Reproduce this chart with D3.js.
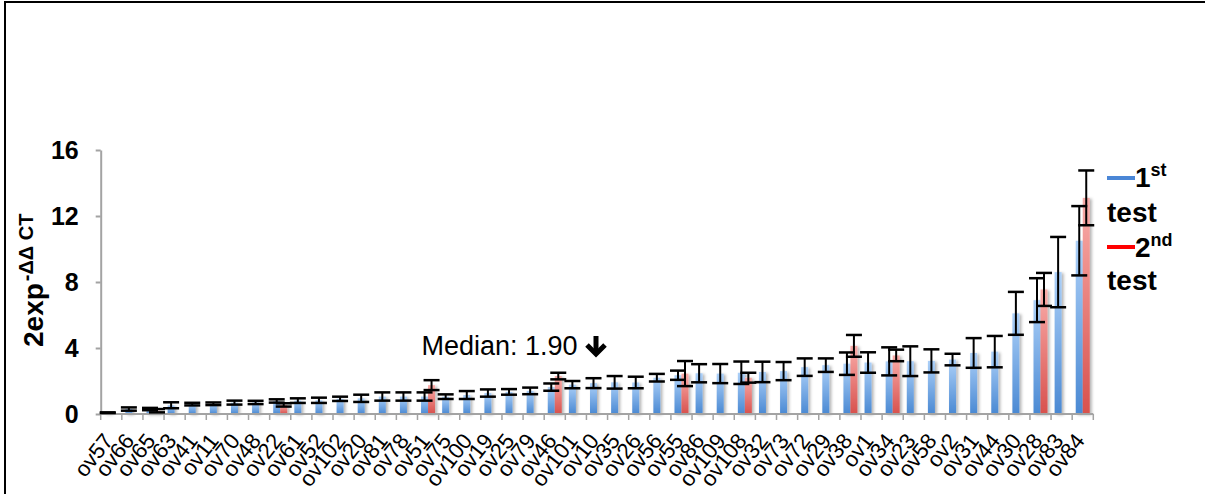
<!DOCTYPE html>
<html><head><meta charset="utf-8">
<script src="https://cdn.jsdelivr.net/npm/d3@7"></script>
<style>
body{margin:0;background:#fff;}
svg{display:block;font-family:"Liberation Sans",Arial,sans-serif;}
</style></head>
<body><svg id="c" width="1205" height="494"></svg>
<script>
const categories = ["ov57","ov66","ov65","ov63","ov41","ov11","ov70","ov48","ov22","ov61","ov52","ov102","ov20","ov81","ov78","ov51","ov75","ov100","ov19","ov25","ov79","ov46","ov101","ov10","ov35","ov26","ov56","ov55","ov86","ov109","ov108","ov32","ov73","ov72","ov29","ov38","ov1","ov34","ov23","ov58","ov2","ov31","ov44","ov30","ov28","ov83","ov84"];
const test1 = [0.08,0.3,0.3,0.53,0.6,0.62,0.69,0.7,0.79,0.81,0.83,0.92,0.95,1.06,1.06,1.06,1.05,1.15,1.27,1.34,1.4,1.63,1.78,1.87,1.92,1.91,2.2,2.35,2.47,2.45,2.5,2.55,2.6,2.84,2.96,3.05,3.12,3.19,3.2,3.22,3.3,3.7,3.78,6.1,6.9,8.6,10.5];
const err1 = [0.02,0.1,0.07,0.18,0.08,0.08,0.12,0.1,0.1,0.14,0.16,0.13,0.22,0.25,0.25,0.25,0.14,0.24,0.22,0.17,0.2,0.22,0.22,0.3,0.38,0.35,0.23,0.28,0.55,0.58,0.68,0.62,0.55,0.53,0.41,0.68,0.62,0.85,0.9,0.7,0.35,0.9,0.95,1.3,1.33,2.13,2.1];
const test2 = [null,null,0.2,null,null,null,null,null,0.55,null,null,null,null,null,null,1.75,null,null,null,null,null,2.3,null,null,null,null,null,2.45,null,null,2.2,null,null,null,null,4.13,null,3.55,null,null,null,null,null,null,7.55,null,13.1];
const err2 = [null,null,0.1,null,null,null,null,null,0.1,null,null,null,null,null,null,0.3,null,null,null,null,null,0.2,null,null,null,null,null,0.76,null,null,0.3,null,null,null,null,0.66,null,0.35,null,null,null,null,null,null,1.0,null,1.66];
const yTicks = [0,4,8,12,16];
const seriesNames = ["1st test","2nd test"];
const medianLabel = "Median: 1.90";

const svg = d3.select("#c");
const defs = svg.append("defs");
function grad(id, top, bottom){
  const g = defs.append("linearGradient").attr("id",id).attr("x1",0).attr("y1",0).attr("x2",0).attr("y2",1);
  g.append("stop").attr("offset","0%").attr("stop-color",top);
  g.append("stop").attr("offset","100%").attr("stop-color",bottom);
}
grad("gBlue","#acd0f8","#4a89d3");
grad("gRed","#f9aca9","#d8514d");
const f = defs.append("filter").attr("id","sh").attr("x","-50%").attr("y","-10%").attr("width","200%").attr("height","130%");
f.append("feDropShadow").attr("dx",2).attr("dy",1).attr("stdDeviation",1.6).attr("flood-color","#000").attr("flood-opacity",0.3);

// frame
svg.append("path").attr("d","M5,494 V2 H1205").attr("fill","none").attr("stroke","#000").attr("stroke-width",2);

const x = d3.scaleBand().domain(categories).range([100.7,1093.3]).padding(0);
const bw = x.bandwidth();
const xs = d3.scaleBand().domain(seriesNames).range([bw/2-7, bw/2+7]);
const y = d3.scaleLinear().domain([0,16]).range([414,150]);

const data = categories.map((c,i)=>({c, v1:test1[i], e1:err1[i], v2:test2[i], e2:err2[i]}));

// bars
const barsG = svg.append("g").attr("filter","url(#sh)");
barsG.selectAll("rect.b1").data(data).join("rect")
  .attr("x",d=>x(d.c)+xs(seriesNames[0])).attr("width",xs.bandwidth())
  .attr("y",d=>y(d.v1)).attr("height",d=>y(0)-y(d.v1)).attr("fill","url(#gBlue)");
barsG.selectAll("rect.b2").data(data.filter(d=>d.v2!=null)).join("rect")
  .attr("x",d=>x(d.c)+xs(seriesNames[1])).attr("width",xs.bandwidth())
  .attr("y",d=>y(d.v2)).attr("height",d=>y(0)-y(d.v2)).attr("fill","url(#gRed)");

// axes
const axisColor = "#a3a3a3";
const yAxis = svg.append("g").attr("transform","translate(100.7,0)")
  .call(d3.axisLeft(y).tickValues(yTicks).tickSize(5).tickSizeOuter(0).tickPadding(17));
yAxis.select(".domain").attr("stroke",axisColor).attr("stroke-width",2);
yAxis.selectAll(".tick line").attr("stroke",axisColor).attr("stroke-width",2);
yAxis.selectAll(".tick text").attr("font-size",25).attr("font-weight","bold").attr("fill","#000")
  .attr("font-family","'Liberation Sans',Arial,sans-serif");

const xAxisG = svg.append("g");
const edges = categories.map(c=>x(c)).concat([x.range()[1]]);
xAxisG.append("line").attr("x1",x.range()[0]).attr("x2",x.range()[1]).attr("y1",y(0)).attr("y2",y(0))
  .attr("stroke",axisColor).attr("stroke-width",2);
xAxisG.selectAll("line.t").data(edges).join("line")
  .attr("x1",d=>d).attr("x2",d=>d).attr("y1",y(0)).attr("y2",y(0)+6)
  .attr("stroke",axisColor).attr("stroke-width",1.5);
xAxisG.selectAll("text").data(categories).join("text")
  .attr("transform",d=>`translate(${x(d)+bw/2+3},441) rotate(-52)`)
  .attr("text-anchor","end").attr("font-size",22).attr("fill","#000").text(d=>d);

// error bars
function errBars(arr, key, ekey, sname){
  const g = svg.append("g");
  arr.forEach(d=>{
    const cx = x(d.c)+xs(sname)+xs.bandwidth()/2;
    const y1 = y(d[key]+d[ekey]), y2 = y(Math.max(0,d[key]-d[ekey]));
    g.append("line").attr("x1",cx).attr("x2",cx).attr("y1",y1).attr("y2",y2).attr("stroke","#000").attr("stroke-width",2);
    [y1,y2].forEach(yy=>g.append("line").attr("x1",cx-8).attr("x2",cx+8).attr("y1",yy).attr("y2",yy).attr("stroke","#000").attr("stroke-width",2.5));
  });
}
errBars(data, "v1","e1", seriesNames[0]);
errBars(data.filter(d=>d.v2!=null), "v2","e2", seriesNames[1]);

// y label
const yl = svg.append("text").attr("transform","translate(43,347) rotate(-90)")
  .attr("font-weight","bold").attr("font-size",28).attr("fill","#000");
yl.append("tspan").text("2exp");
yl.append("tspan").attr("dx",2).attr("dy",-10).attr("font-size",20).text("-\u0394\u0394 CT");

// median annotation
svg.append("text").attr("x",421.5).attr("y",355).attr("font-size",27).attr("fill","#000").text(medianLabel);
svg.append("line").attr("x1",596).attr("x2",596).attr("y1",336).attr("y2",352).attr("stroke","#000").attr("stroke-width",5);
svg.append("path").attr("d","M587,345 L596,354 L605,345").attr("fill","none").attr("stroke","#000").attr("stroke-width",5).attr("stroke-linejoin","miter");

// legend
const leg = svg.append("g");
const legItems = [{sup:"st", main:"1", color:"#4a86d6", ly:178, ty:187, ty2:222},
                  {sup:"nd", main:"2", color:"#ff0000", ly:247, ty:257, ty2:290}];
legItems.forEach(it=>{
  leg.append("line").attr("x1",1107).attr("x2",1135).attr("y1",it.ly).attr("y2",it.ly).attr("stroke",it.color).attr("stroke-width",4);
  const t = leg.append("text").attr("x",1135).attr("y",it.ty).attr("font-weight","bold").attr("font-size",28).attr("fill","#000");
  t.append("tspan").text(it.main);
  t.append("tspan").attr("dy",-11).attr("font-size",18).text(it.sup);
  leg.append("text").attr("x",1107).attr("y",it.ty2).attr("font-weight","bold").attr("font-size",28).attr("fill","#000").text("test");
});
</script></body></html>
